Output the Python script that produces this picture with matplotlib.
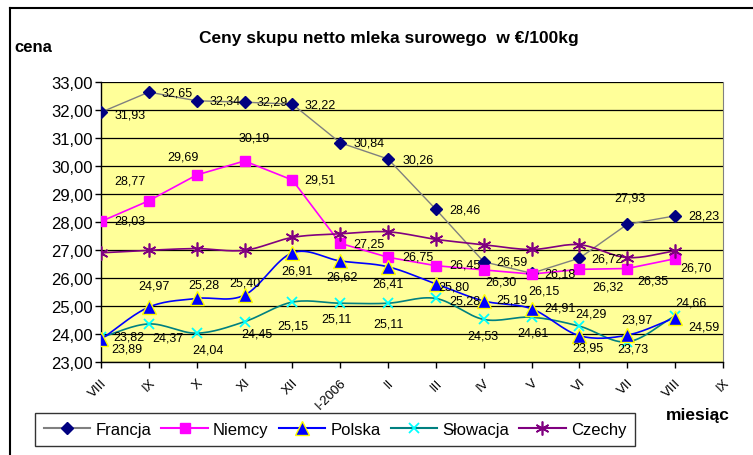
import numpy as np
import matplotlib
matplotlib.use('Agg')
import matplotlib.pyplot as plt
from matplotlib.lines import Line2D

plt.rcParams['font.family'] = ['Liberation Sans', 'DejaVu Sans']

# months on the category axis (last one has no data)
months = ['VIII', 'IX', 'X', 'XI', 'XII', 'I-2006', 'II', 'III', 'IV', 'V',
          'VI', 'VII', 'VIII', 'IX']

francja = [31.93, 32.65, 32.34, 32.29, 32.22, 30.84, 30.26, 28.46, 26.59,
           26.18, 26.72, 27.93, 28.23]
niemcy = [28.03, 28.77, 29.69, 30.19, 29.51, 27.25, 26.75, 26.45, 26.30,
          26.15, 26.32, 26.35, 26.70]
polska = [23.82, 24.97, 25.28, 25.40, 26.91, 26.62, 26.41, 25.80, 25.19,
          24.91, 23.95, 23.97, 24.59]
slowacja = [23.89, 24.37, 24.04, 24.45, 25.15, 25.11, 25.11, 25.28, 24.53,
            24.61, 24.29, 23.73, 24.66]
czechy = [26.91, 27.00, 27.06, 27.00, 27.46, 27.59, 27.66, 27.39, 27.20,
          27.03, 27.20, 26.74, 26.98]

# data label offsets in pixels (dx right, dy down)
off_fr = [(29, 2), (28, 0), (28, 0), (28, -1), (28, 0), (29, 0), (30, 0),
          (29, 0), (28, 0), (28, 0), (28, 0), (3, -27), (29, 0)]
off_de = [(29, -1), (-19, -20), (-14, -18), (10, -23), (28, -1), (29, 0),
          (30, -1), (29, -1), (17, 12), (12, 16), (28, 17), (26, 12), (21, 9)]
off_pl = [(28, -3), (5, -22), (7, -14), (0, -13), (5, 18), (2, 16), (0, 17),
          (18, 3), (28, -1), (28, -1), (8, 12), (10, -16), (29, 9)]
off_sk = [(26, 11), (19, 14), (11, 16), (12, 12), (0, 23), (-4, 15), (0, 20),
          (29, 2), (-1, 16), (1, 15), (12, -13), (6, 7), (16, -13)]


def smooth(x, y, n=16):
    # Catmull-Rom curve through the points, like Excel's smoothed line
    x = np.asarray(x, float)
    y = np.asarray(y, float)
    px = np.concatenate([[2 * x[0] - x[1]], x, [2 * x[-1] - x[-2]]])
    py = np.concatenate([[2 * y[0] - y[1]], y, [2 * y[-1] - y[-2]]])
    xs, ys = [], []
    t = np.linspace(0, 1, n, endpoint=False)
    for i in range(1, len(px) - 2):
        for p, out in ((px, xs), (py, ys)):
            p0, p1, p2, p3 = p[i - 1], p[i], p[i + 1], p[i + 2]
            out.extend(0.5 * (2 * p1 + (-p0 + p2) * t
                              + (2 * p0 - 5 * p1 + 4 * p2 - p3) * t ** 2
                              + (-p0 + 3 * p1 - 3 * p2 + p3) * t ** 3))
    xs.append(x[-1])
    ys.append(y[-1])
    return xs, ys


fig = plt.figure(figsize=(7.53, 4.56), dpi=100)
ax = fig.add_axes([101 / 753, 1 - 363.3 / 456, 622 / 753, 280 / 456])
ax.set_facecolor('#FFFF99')

x = np.arange(len(francja))

ax.plot(x, francja, color='#808080', lw=1, zorder=3)
ax.plot(x, francja, ls='none', marker='D', ms=6.5, mfc='#000080', mec='#000080', zorder=4)

ax.plot(x, niemcy, color='#FF00FF', lw=1.2, zorder=3)
ax.plot(x, niemcy, ls='none', marker='s', ms=7, mfc='#FF00FF', mec='#FF00FF', zorder=4)

sx, sy = smooth(x, czechy)
ax.plot(sx, sy, color='#800080', lw=1.2, zorder=3)
ax.plot(x, czechy, ls='none', marker=(6, 2, 0), ms=10, mec='#800080', mew=1.2, zorder=4)

sx, sy = smooth(x, slowacja)
ax.plot(sx, sy, color='#008080', lw=1.2, zorder=3)
ax.plot(x, slowacja, ls='none', marker='x', ms=7.5, mec='#00FFFF', mew=1.3, zorder=4)

sx, sy = smooth(x, polska)
ax.plot(sx, sy, color='#0000FF', lw=1.2, zorder=3)
ax.plot(x, polska, ls='none', marker='^', ms=10, mfc='#0000FF', mec='#FFFF00', mew=1, zorder=5)

for vals, offs in ((francja, off_fr), (niemcy, off_de), (polska, off_pl), (slowacja, off_sk)):
    for i, (v, (dx, dy)) in enumerate(zip(vals, offs)):
        ax.annotate(f'{v:.2f}'.replace('.', ','), (i, v), xytext=(dx, -dy),
                    textcoords='offset pixels', ha='center', va='center',
                    fontsize=9, color='black', zorder=6)

ax.set_xlim(0, 13)
ax.set_ylim(23, 33)
ax.set_yticks(np.arange(23, 33.5, 1))
ax.set_yticklabels([f'{v:.2f}'.replace('.', ',') for v in np.arange(23, 33.5, 1)], fontsize=12)
ax.set_xticks(np.arange(len(months)))
ax.set_xticklabels(months, rotation=45, ha='right', va='top', fontsize=9.5,
                   rotation_mode='anchor')
ax.tick_params(axis='x', direction='out', length=4, width=1, pad=6)
ax.tick_params(axis='y', direction='out', length=4, width=1, pad=2)
ax.grid(axis='y', color='black', lw=0.9, zorder=1)
ax.set_axisbelow(True)
for side in ('left', 'bottom'):
    ax.spines[side].set_color('black')
    ax.spines[side].set_linewidth(1)
ax.spines['top'].set_visible(False)
ax.spines['right'].set_color('#808080')

fig.text(389 / 753, 1 - 38 / 456, 'Ceny skupu netto mleka surowego  w €/100kg',
         ha='center', va='center', fontsize=12.5, fontweight='bold')
fig.text(14 / 753, 1 - 47 / 456, 'cena', ha='left', va='center',
         fontsize=12, fontweight='bold')
fig.text(698 / 753, 1 - 416 / 456, 'miesiąc', ha='center', va='center',
         fontsize=12.5, fontweight='bold')

handles = [
    Line2D([], [], color='#808080', marker='D', ms=6.5, mfc='#000080', mec='#000080'),
    Line2D([], [], color='#FF00FF', marker='s', ms=7, mfc='#FF00FF', mec='#FF00FF'),
    Line2D([], [], color='#0000FF', marker='^', ms=10, mfc='#0000FF', mec='#FFFF00'),
    Line2D([], [], color='#008080', marker='x', ms=7.5, mec='#00FFFF', mew=1.3),
    Line2D([], [], color='#800080', marker=(6, 2, 0), ms=10, mec='#800080', mew=1.2),
]
leg = fig.legend(handles, ['Francja', 'Niemcy', 'Polska', 'Słowacja', 'Czechy'],
                 loc='center', bbox_to_anchor=(335 / 753, 1 - 430.5 / 456),
                 ncol=5, fontsize=12, frameon=True, fancybox=False,
                 handlelength=2.8, columnspacing=0.6, handletextpad=0.3,
                 borderpad=0.55, borderaxespad=0)
leg.get_frame().set_edgecolor('black')
leg.get_frame().set_linewidth(1)

# outer chart frame (cropped at right and bottom)
fig.add_artist(Line2D([10 / 753, 1], [1 - 9 / 456, 1 - 9 / 456], color='black', lw=1.5))
fig.add_artist(Line2D([10 / 753, 10 / 753], [0, 1 - 9 / 456], color='black', lw=1.5))

fig.savefig('out.png', dpi=100)
